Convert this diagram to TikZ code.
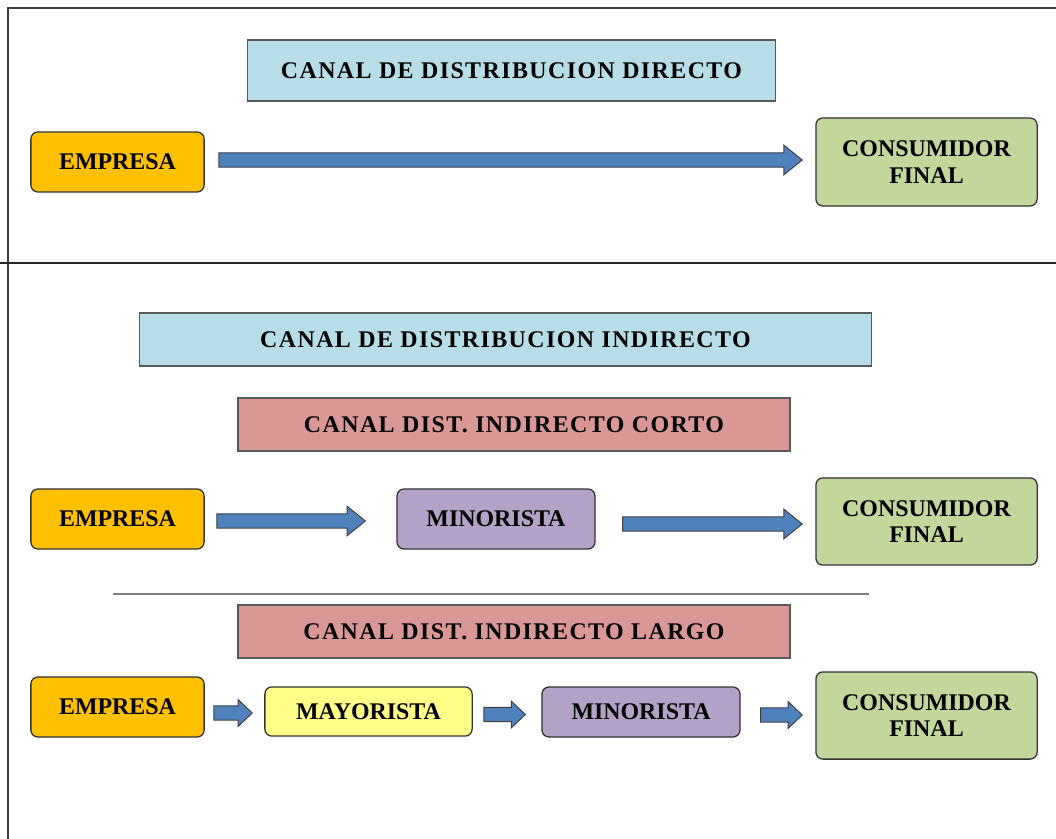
\documentclass[tikz,border=0pt]{standalone}
\usepackage{fontspec}
\setmainfont{Liberation Serif}
\newfontfamily\spacedfont{Liberation Serif}[LetterSpace=6]
\usetikzlibrary{calc}
\definecolor{empresa}{HTML}{FFC000}
\definecolor{consumidor}{HTML}{C3D69B}
\definecolor{minorista}{HTML}{B3A2C7}
\definecolor{mayorista}{HTML}{FFFF88}
\definecolor{titulo}{HTML}{B7DEE8}
\definecolor{subtitulo}{HTML}{D99795}
\definecolor{flecha}{HTML}{4F81BD}
\tikzset{
  box/.style={draw=black!80, line width=0.9pt, rounded corners=5pt, align=center,
    inner sep=0pt, font=\fontsize{17}{19}\selectfont\bfseries},
  titlebox/.style={draw=black!65, line width=0.9pt, inner sep=0pt,
    font=\spacedfont\fontsize{17}{19}\selectfont\bfseries},
  blockarrow/.style={draw=black!75, fill=flecha, line width=0.7pt,
    to path={let \p1=(\tikztostart), \p2=(\tikztotarget) in
      (\x1,\y1+5pt) -- (\x2-13pt,\y1+5pt) -- (\x2-13pt,\y1+10.5pt) -- (\x2,\y1)
      -- (\x2-13pt,\y1-10.5pt) -- (\x2-13pt,\y1-5pt) -- (\x1,\y1-5pt) -- cycle}},
  shortarrow/.style={blockarrow,
    to path={let \p1=(\tikztostart), \p2=(\tikztotarget) in
      (\x1,\y1+5pt) -- (\x2-10pt,\y1+5pt) -- (\x2-10pt,\y1+9.5pt) -- (\x2,\y1)
      -- (\x2-10pt,\y1-9.5pt) -- (\x2-10pt,\y1-5pt) -- (\x1,\y1-5pt) -- cycle}}
}

\begin{document}
\begin{tikzpicture}[x=0.025cm, y=-0.025cm]
    \useasboundingbox (0,0) rectangle (1056,839);
    % frame
    \draw[black!75, line width=1.2pt] (8,839) -- (8,8) -- (1056,8);
    \draw[black!85, line width=1.4pt] (0,263) -- (1056,263);
    \draw[black!50, line width=1.2pt] (113,594) -- (869,594);

    % canal directo
    \node[titlebox, fill=titulo, minimum width=13.18cm, minimum height=1.52cm] (tdir) at (511.5,70.5) {CANAL DE DISTRIBUCION DIRECTO};
    \node[box, fill=empresa, minimum width=4.33cm, minimum height=1.5cm] (emp1) at (117.5,162) {EMPRESA};
    \node[box, fill=consumidor, minimum width=5.53cm, minimum height=2.2cm] (cons1) at (926.5,162) {CONSUMIDOR\\FINAL};
    \draw[blockarrow] ($(emp1.east)+(14,-2)$) to ($(cons1.west)+(-13,0)$);

    % canal indirecto
    \node[titlebox, fill=titulo, minimum width=18.28cm, minimum height=1.33cm] (tind) at (505.5,339.5) {CANAL DE DISTRIBUCION INDIRECTO};
    \node[titlebox, fill=subtitulo, minimum width=13.8cm, minimum height=1.33cm] (tcorto) at (514,424.5) {CANAL DIST. INDIRECTO CORTO};
    \node[box, fill=empresa, minimum width=4.33cm, minimum height=1.5cm] (emp2) at (117.5,519) {EMPRESA};
    \node[box, fill=minorista, minimum width=4.95cm, minimum height=1.5cm] (min2) at (496,519) {MINORISTA};
    \node[box, fill=consumidor, minimum width=5.53cm, minimum height=2.18cm] (cons2) at (926.5,521.5) {CONSUMIDOR\\FINAL};
    \draw[blockarrow] ($(emp2.east)+(12,2)$) to ($(min2.west)+(-31,0)$);
    \draw[blockarrow] ($(min2.east)+(27,5)$) to ($(cons2.west)+(-13,0)$);

    % largo
    \node[titlebox, fill=subtitulo, minimum width=13.8cm, minimum height=1.33cm] (tlargo) at (514,631.5) {CANAL DIST. INDIRECTO LARGO};
    \node[box, fill=empresa, minimum width=4.33cm, minimum height=1.5cm] (emp3) at (117.5,707) {EMPRESA};
    \node[box, fill=mayorista, minimum width=5.18cm, minimum height=1.23cm] (may3) at (368.5,711.5) {MAYORISTA};
    \node[box, fill=minorista, minimum width=4.95cm, minimum height=1.25cm] (min3) at (641,712) {MINORISTA};
    \node[box, fill=consumidor, minimum width=5.53cm, minimum height=2.18cm] (cons3) at (926.5,715.5) {CONSUMIDOR\\FINAL};
    \draw[shortarrow] ($(emp3.east)+(9,6)$) to ($(may3.west)+(-12,0)$);
    \draw[shortarrow] ($(may3.east)+(11,3)$) to ($(min3.west)+(-16,0)$);
    \draw[shortarrow] ($(min3.east)+(20,3)$) to ($(cons3.west)+(-13,0)$);
\end{tikzpicture}
\end{document}
